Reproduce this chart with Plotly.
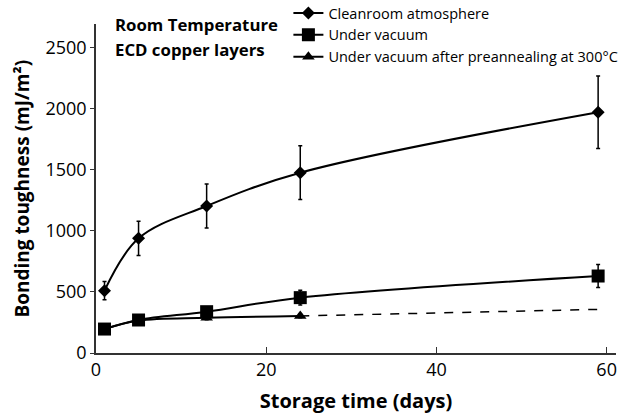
import plotly.graph_objects as go

days = [1, 5, 13, 24, 59]
clean = [510, 938, 1203, 1475, 1970]
clean_err = [75, 140, 180, 220, 297]
vac = [196, 270, 338, 453, 630]
vac_err = [20, 20, 25, 60, 95]
pre_days = [1, 5, 13, 24]
pre = [195, 265, 288, 303]
pre_err = [15, 15, 15, 15]
ext_days = [24, 59]
ext_vals = [303, 357]

FONT = "Open Sans"
fig = go.Figure()
fig.add_trace(go.Scatter(
    x=days, y=clean, name="Cleanroom atmosphere", mode="lines+markers",
    line=dict(color="black", width=2, shape="spline"),
    marker=dict(symbol="diamond", size=10, color="black"),
    error_y=dict(type="data", array=clean_err, color="black", thickness=1.5, width=2)))
fig.add_trace(go.Scatter(
    x=days, y=vac, name="Under vacuum", mode="lines+markers",
    line=dict(color="black", width=2, shape="spline"),
    marker=dict(symbol="square", size=13, color="black"),
    error_y=dict(type="data", array=vac_err, color="black", thickness=1.5, width=2)))
fig.add_trace(go.Scatter(
    x=pre_days, y=pre, name="Under vacuum after preannealing at 300°C", mode="lines+markers",
    line=dict(color="black", width=2, shape="spline"),
    marker=dict(symbol="triangle-up", size=11, color="black"),
    error_y=dict(type="data", array=pre_err, color="black", thickness=1.5, width=2)))
fig.add_trace(go.Scatter(
    x=ext_days, y=ext_vals, mode="lines", showlegend=False,
    line=dict(color="black", width=1.5, dash="dash")))

fig.update_layout(
    width=630, height=418,
    margin=dict(l=96, r=14, t=24, b=65, autoexpand=False),
    paper_bgcolor="white", plot_bgcolor="white",
    font=dict(family=FONT, color="black", size=17),
    showlegend=True,
    legend=dict(x=0.37, y=1.082, xanchor="left", yanchor="top",
                font=dict(size=14.5, family=FONT), bgcolor="rgba(0,0,0,0)",
                tracegroupgap=0, itemclick=False),
    annotations=[
        dict(text="<b>Room Temperature</b>", x=0.033, y=1.0, xref="paper", yref="paper",
             xanchor="left", yanchor="middle", showarrow=False, font=dict(size=16.8, family=FONT)),
        dict(text="<b>ECD copper layers</b>", x=0.033, y=0.921, xref="paper", yref="paper",
             xanchor="left", yanchor="middle", showarrow=False, font=dict(size=16.8, family=FONT)),
        dict(text="<b>Bonding toughness (mJ/m²)</b>", x=-0.144, y=0.5, xref="paper", yref="paper",
             xanchor="center", yanchor="middle", textangle=-90, showarrow=False,
             font=dict(size=19, family=FONT)),
    ],
)
fig.update_xaxes(range=[0, 61.1], tickvals=[0, 20, 40, 60], showline=True, linecolor="#333",
                 linewidth=1.5, ticks="inside", ticklen=6, tickcolor="#333", showgrid=False,
                 zeroline=False, tickfont=dict(size=18),
                 title=dict(text="<b>Storage time (days)</b>", font=dict(size=20), standoff=14))
fig.update_yaxes(range=[0, 2692], tickvals=[0, 500, 1000, 1500, 2000, 2500], showline=True,
                 linecolor="#333", linewidth=1.5, ticks="outside", ticklen=4, tickcolor="#333",
                 showgrid=False, zeroline=False, tickfont=dict(size=18))
fig.write_html("out.html")
